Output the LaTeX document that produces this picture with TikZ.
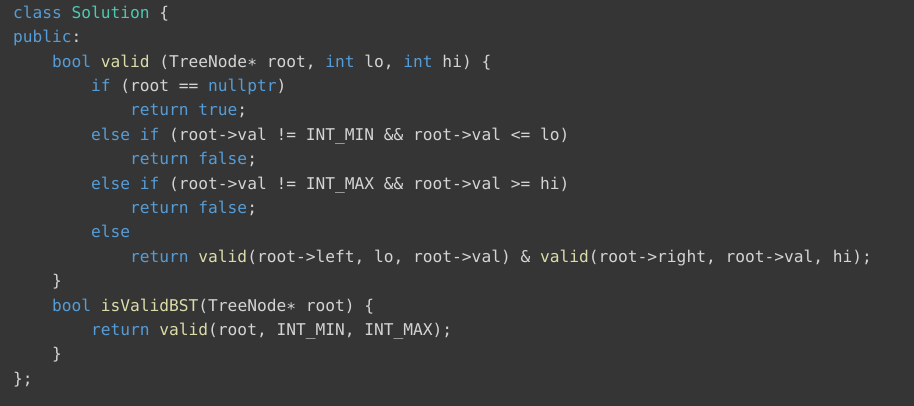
\documentclass[tikz,border=0pt]{standalone}
\usepackage{fontspec}
\setmonofont{DejaVu Sans Mono}
\definecolor{bgc}{HTML}{353535}
\definecolor{txc}{HTML}{D4D4D4}
\definecolor{kwc}{HTML}{569CD6}
\definecolor{tyc}{HTML}{4EC9B0}
\definecolor{fnc}{HTML}{DCDCAA}
\newcommand\Kw[1]{\textcolor{kwc}{#1}}
\newcommand\Ty[1]{\textcolor{tyc}{#1}}
\newcommand\Fn[1]{\textcolor{fnc}{#1}}
\newcommand\Ast{\char"2217}
\tikzset{
  codeline/.style={anchor=base west, inner sep=0pt, outer sep=0pt, text=txc,
    font=\ttfamily\fontsize{12.16pt}{18pt}\selectfont},
}
\begin{document}
\begin{tikzpicture}[x=0.75pt,y=-0.75pt]
\fill[bgc] (0,0) rectangle (914,406);
\useasboundingbox (0,0) rectangle (914,406);
\def\cw{9.76}
\def\lh{24.4}
\def\bl{18.3}
\node[codeline] (l1)  at (13+0*\cw, \bl+0*\lh)  {\Kw{class} \Ty{Solution} \{};
\node[codeline] (l2)  at (13+0*\cw, \bl+1*\lh)  {\Kw{public}:};
\node[codeline] (l3)  at (13+4*\cw, \bl+2*\lh)  {\Kw{bool} \Fn{valid} (TreeNode\Ast{} root, \Kw{int} lo, \Kw{int} hi) \{};
\node[codeline] (l4)  at (13+8*\cw, \bl+3*\lh)  {\Kw{if} (root == \Kw{nullptr})};
\node[codeline] (l5)  at (13+12*\cw, \bl+4*\lh) {\Kw{return} \Kw{true};};
\node[codeline] (l6)  at (13+8*\cw, \bl+5*\lh)  {\Kw{else} \Kw{if} (root->val != INT\_MIN \&\& root->val <= lo)};
\node[codeline] (l7)  at (13+12*\cw, \bl+6*\lh) {\Kw{return} \Kw{false};};
\node[codeline] (l8)  at (13+8*\cw, \bl+7*\lh)  {\Kw{else} \Kw{if} (root->val != INT\_MAX \&\& root->val >= hi)};
\node[codeline] (l9)  at (13+12*\cw, \bl+8*\lh) {\Kw{return} \Kw{false};};
\node[codeline] (l10) at (13+8*\cw, \bl+9*\lh)  {\Kw{else}};
\node[codeline] (l11) at (13+12*\cw, \bl+10*\lh) {\Kw{return} \Fn{valid}(root->left, lo, root->val) \& \Fn{valid}(root->right, root->val, hi);};
\node[codeline] (l12) at (13+4*\cw, \bl+11*\lh) {\}};
\node[codeline] (l13) at (13+4*\cw, \bl+12*\lh) {\Kw{bool} \Fn{isValidBST}(TreeNode\Ast{} root) \{};
\node[codeline] (l14) at (13+8*\cw, \bl+13*\lh) {\Kw{return} \Fn{valid}(root, INT\_MIN, INT\_MAX);};
\node[codeline] (l15) at (13+4*\cw, \bl+14*\lh) {\}};
\node[codeline] (l16) at (13+0*\cw, \bl+15*\lh) {\};};
\end{tikzpicture}
\end{document}
